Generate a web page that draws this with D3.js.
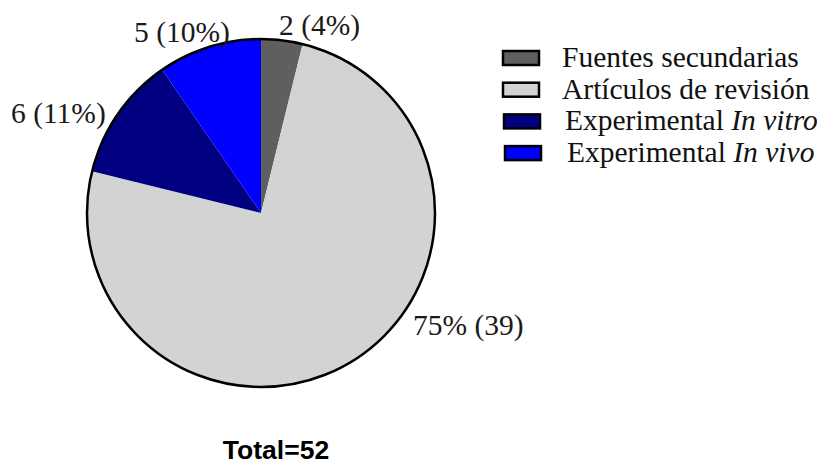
<!DOCTYPE html>
<html>
<head>
<meta charset="utf-8">
<script src="https://cdn.jsdelivr.net/npm/d3@7/dist/d3.min.js"></script>
<style>
  html, body { margin: 0; padding: 0; background: #ffffff; }
  svg { display: block; }
</style>
</head>
<body>
<svg id="chart" width="817" height="466"></svg>
<script>
// ---- data ----
const categories = ["Fuentes secundarias", "Artículos de revisión", "Experimental In vitro", "Experimental In vivo"];
const legendPlain = ["Fuentes secundarias", "Artículos de revisión", "Experimental ", "Experimental "];
const legendItalic = ["", "", "In vitro", "In vivo"];
const counts = [2, 39, 6, 5];
const percents = [4, 75, 11, 10];
const sliceLabels = ["2 (4%)", "75% (39)", "6 (11%)", "5 (10%)"];
const totalLabel = "Total=52";
const colors = ["#5f5f5f", "#d3d3d3", "#000080", "#0000ff"];

// ---- layout ----
const cx = 261, cy = 213, R = 174;
const labelAnchors = [[279, 35], [413, 335], [11, 123], [134, 42]];

const svg = d3.select("#chart");
const g = svg.append("g").attr("transform", `translate(${cx},${cy})`);

const pie = d3.pie().sort(null).value(d => d);
const arc = d3.arc().innerRadius(0).outerRadius(R);

g.selectAll("path.slice")
  .data(pie(counts))
  .join("path")
  .attr("class", "slice")
  .attr("d", arc)
  .attr("fill", (d, i) => colors[i]);

g.append("circle")
  .attr("r", R)
  .attr("fill", "none")
  .attr("stroke", "#000")
  .attr("stroke-width", 2.5);

// slice labels
svg.selectAll("text.slabel")
  .data(sliceLabels)
  .join("text")
  .attr("class", "slabel")
  .attr("x", (d, i) => labelAnchors[i][0])
  .attr("y", (d, i) => labelAnchors[i][1])
  .attr("font-family", "'Liberation Serif', 'Times New Roman', serif")
  .attr("font-size", 29.5)
  .attr("fill", "#1a1a1a")
  .text(d => d);

// legend
const legX = [503, 503, 504, 505];
const legTextX = [562, 562, 565, 567];
const legY0 = 58, legDy = 31.7;
const leg = svg.append("g");
categories.forEach((c, i) => {
  const y = legY0 + i * legDy;
  leg.append("rect")
    .attr("x", legX[i])
    .attr("y", y - 7)
    .attr("width", 36)
    .attr("height", 14)
    .attr("fill", colors[i])
    .attr("stroke", "#000")
    .attr("stroke-width", 2.5);
  const t = leg.append("text")
    .attr("x", legTextX[i])
    .attr("y", y + 9)
    .attr("font-family", "'Liberation Serif', 'Times New Roman', serif")
    .attr("font-size", 29.5)
    .attr("fill", "#111");
  t.append("tspan").text(legendPlain[i]);
  if (legendItalic[i]) t.append("tspan").attr("font-style", "italic").text(legendItalic[i]);
});

// total
svg.append("text")
  .attr("x", 276)
  .attr("y", 459)
  .attr("text-anchor", "middle")
  .attr("font-family", "'Liberation Sans', Arial, sans-serif")
  .attr("font-weight", "bold")
  .attr("font-size", 26.5)
  .attr("fill", "#000")
  .text(totalLabel);
</script>
</body>
</html>
